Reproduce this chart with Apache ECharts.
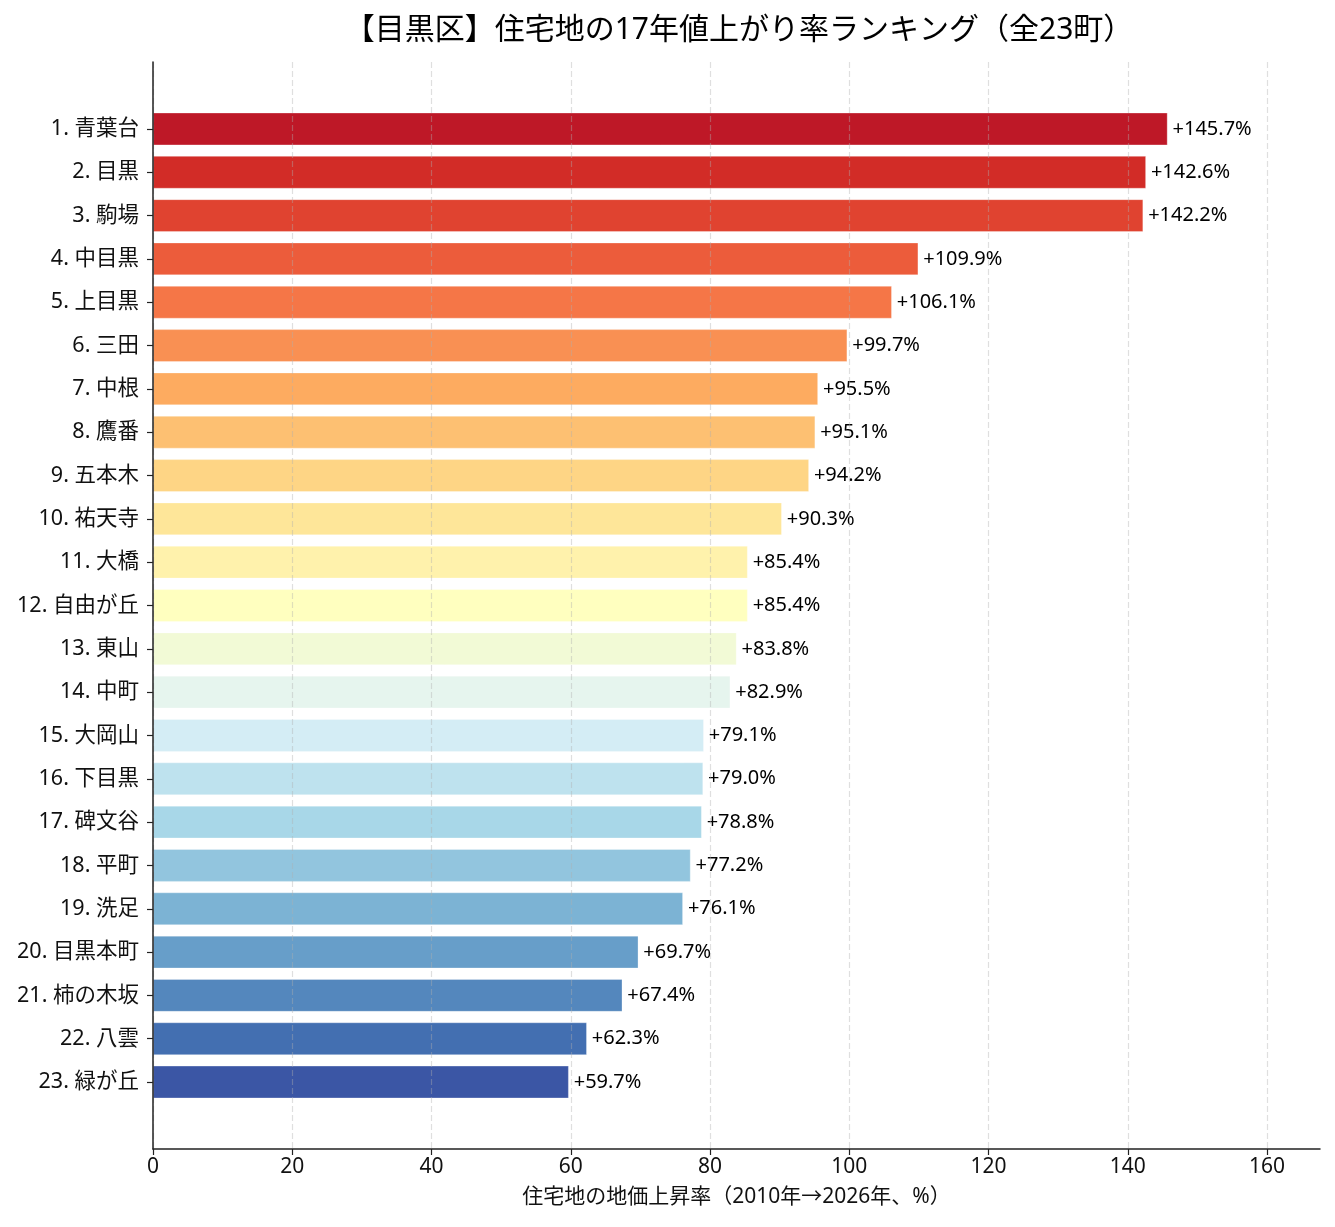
<!DOCTYPE html>
<html>
<head>
<meta charset="utf-8">
<script src="https://cdn.jsdelivr.net/npm/echarts@6/dist/echarts.min.js"></script>
<style>html,body{margin:0;padding:0;background:#fff;}#c{width:1335px;height:1227px;}</style>
</head>
<body>
<div id="c"></div>
<script>
const towns = ['青葉台','目黒','駒場','中目黒','上目黒','三田','中根','鷹番','五本木','祐天寺','大橋','自由が丘','東山','中町','大岡山','下目黒','碑文谷','平町','洗足','目黒本町','柿の木坂','八雲','緑が丘'];
const rates = [145.7,142.6,142.2,109.9,106.1,99.7,95.5,95.1,94.2,90.3,85.4,85.4,83.8,82.9,79.1,79.0,78.8,77.2,76.1,69.7,67.4,62.3,59.7];
const xTicks = [0,20,40,60,80,100,120,140,160];
const titleText = '【目黒区】住宅地の17年値上がり率ランキング（全23町）';
const xLabelText = '住宅地の地価上昇率（2010年→2026年、%）';

const FONT = '"Noto Sans", "Noto Sans CJK JP", sans-serif';
const XMAX = 167.6;

// RdYlBu colormap stops
const stops = ['#a50026','#d73027','#f46d43','#fdae61','#fee090','#ffffbf','#e0f3f8','#abd9e9','#74add1','#4575b4','#313695'];
function hex2rgb(h){return [parseInt(h.substr(1,2),16),parseInt(h.substr(3,2),16),parseInt(h.substr(5,2),16)];}
function cmap(t){
  const p = t*(stops.length-1); const i = Math.min(Math.floor(p), stops.length-2); const f = p-i;
  const a = hex2rgb(stops[i]), b = hex2rgb(stops[i+1]);
  return 'rgb(' + a.map((v,k)=>Math.round(v+(b[k]-v)*f)).join(',') + ')';
}
const n = towns.length;
const colors = towns.map((_,i)=>cmap(0.05 + 0.9*i/(n-1)));
const cats = towns.map((t,i)=>(i+1)+'. '+t);

const chart = echarts.init(document.getElementById('c'), null, {renderer:'canvas'});
chart.setOption({
  backgroundColor:'#fff',
  animation:false,
  textStyle:{fontFamily:FONT},
  title:{
    text:titleText, left:734, top:10, textAlign:'center',
    textStyle:{fontFamily:FONT, fontSize:30, fontWeight:'normal', color:'#000'}
  },
  grid:[
    {left:153, right:15, top:107.3, bottom:123.3, containLabel:false},
    {left:153, right:15, top:62, bottom:78, containLabel:false}
  ],
  xAxis:[
    {gridIndex:0, type:'value', min:0, max:XMAX, show:false},
    {gridIndex:1, type:'value', min:0, max:XMAX, interval:20, z:5,
     axisLine:{show:true, onZero:false, lineStyle:{color:'#222', width:1.5}},
     axisTick:{show:true, length:6, inside:false, customValues:xTicks, lineStyle:{color:'#222', width:1.2}},
     axisLabel:{show:true, fontSize:21, color:'#111', margin:8, fontFamily:FONT, customValues:xTicks},
     splitLine:{show:true, lineStyle:{color:'rgba(176,176,176,0.4)', type:[6,3], width:1.2}},
     name:xLabelText, nameLocation:'middle', nameGap:38,
     nameTextStyle:{fontFamily:FONT, fontSize:21, color:'#111'}
    }
  ],
  yAxis:[
    {gridIndex:0, type:'category', data:cats, inverse:true,
     axisLine:{show:false},
     axisTick:{show:true, alignWithLabel:true, length:6, lineStyle:{color:'#222', width:1.2}},
     axisLabel:{fontSize:21.5, color:'#111', margin:14, fontFamily:FONT, padding:[3,0,0,0]},
     splitLine:{show:false}
    },
    {gridIndex:1, type:'value', min:0, max:1, z:5,
     axisLine:{show:true, lineStyle:{color:'#222', width:1.5}},
     axisTick:{show:false}, axisLabel:{show:false}, splitLine:{show:false}
    }
  ],
  series:[{
    type:'bar', xAxisIndex:0, yAxisIndex:0, barWidth:'75%',
    data: rates.map((v,i)=>({value:v, itemStyle:{color:colors[i]}})),
    itemStyle:{borderColor:'rgba(255,255,255,0.5)', borderWidth:0.6},
    label:{show:true, position:'right', distance:5, fontSize:20, color:'#000', fontFamily:FONT,
      formatter:function(p){return '+'+p.value.toFixed(1)+'%';}}
  }]
});
</script>
</body>
</html>
